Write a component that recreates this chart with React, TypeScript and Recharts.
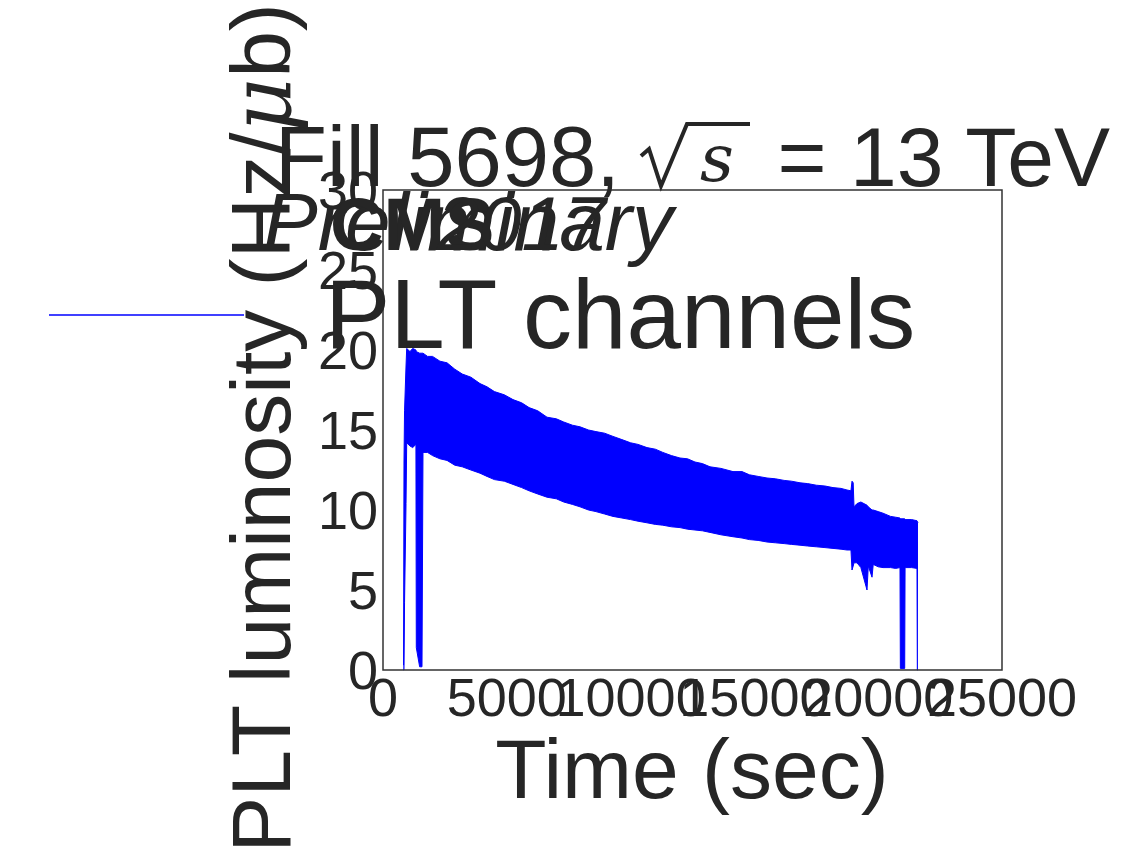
import { ComposedChart, Area, XAxis, YAxis, ReferenceArea } from 'recharts';

// time (sec) and the envelope of the oscillating PLT channel luminosity
const times = [
  830, 848, 870, 930, 957, 1090, 1200, 1330, 1345, 1480, 1575, 1615, 1800, 2000, 2300, 2585,
  2900, 3200, 3550, 3918, 4200, 4500, 4900, 5250, 5600, 5900, 6250, 6624, 7000, 7300, 7650,
  7956, 8300, 8600, 8950, 9289, 9650, 10000, 10300, 10662, 11000, 11300, 11650, 11995, 12300,
  12600, 12900, 13207, 13650, 14136, 14500, 14800, 15150, 15509, 15850, 16200, 16500, 16842,
  17150, 17500, 17850, 18174, 18500, 18740, 18900, 18942, 18990, 19023, 19144, 19300, 19548,
  19600, 19750, 19800, 20000, 20194, 20500, 20700, 20880, 20895, 21070, 21085, 21350, 21567,
  21580, 21607,
];

const highs = [
  0.3, 13.0, 16.2, 19.0, 20.1, 19.9, 20.1, 20.0, 19.9, 19.8, 19.8, 19.8, 19.6, 19.6, 19.3, 19.2,
  18.8, 18.5, 18.3, 17.9, 17.7, 17.4, 17.2, 16.9, 16.7, 16.4, 16.2, 15.8, 15.7, 15.5, 15.3,
  15.2, 15.0, 14.9, 14.8, 14.6, 14.4, 14.2, 14.1, 13.9, 13.8, 13.6, 13.4, 13.25, 13.2,
  13.0, 12.9, 12.7, 12.6, 12.4, 12.4, 12.2, 12.1, 12.0, 11.95, 11.85, 11.8, 11.7,
  11.65, 11.55, 11.5, 11.4, 11.35, 11.25, 11.2, 11.8, 11.7, 10.2, 10.4, 10.5, 10.3,
  10.2, 10.0, 10.0, 9.9, 9.8, 9.6, 9.55, 9.5, 9.45, 9.45, 9.4, 9.4, 9.33,
  9.3, 9.2,
];

const lows = [
  0, 0, 4.2, 10.4, 14.2, 14.0, 13.9, 14.1, 1.4, 0.2, 0.2, 13.6, 13.6, 13.4, 13.2, 13.1,
  12.8, 12.7, 12.5, 12.3, 12.1, 11.9, 11.8, 11.6, 11.4, 11.2, 11.0, 10.8, 10.7, 10.5, 10.35,
  10.2, 10.0, 9.9, 9.75, 9.6, 9.5, 9.4, 9.3, 9.2, 9.1, 9.05, 8.95, 8.9, 8.8,
  8.75, 8.7, 8.6, 8.45, 8.33, 8.25, 8.15, 8.1, 8.0, 7.95, 7.9, 7.85, 7.8,
  7.75, 7.7, 7.65, 7.6, 7.55, 7.5, 7.5, 6.25, 6.5, 6.7, 6.7, 6.4, 5.0,
  6.5, 5.8, 6.6, 6.45, 6.4, 6.4, 6.35, 6.4, 0.1, 0.1, 6.4, 6.4, 6.35,
  0, 0,
];

const xTicks = [0, 5000, 10000, 15000, 20000, 25000];
const yTicks = [0, 5, 10, 15, 20, 25, 30];

const data = times.map((t, i) => ({ t, range: [lows[i], highs[i]] }));

const FONT = '"Liberation Sans", Arial, sans-serif';
const MATH = '"DejaVu Serif", "Liberation Serif", serif';
const INK = '#262626';

export default function App() {
  return (
    <div style={{ position: 'relative', width: 1123, height: 863, fontFamily: FONT }}>
      <style>{'body{margin:0}'}</style>
      <ComposedChart
        width={1123}
        height={863}
        data={data}
        margin={{ top: 190, right: 121, bottom: 133, left: 323 }}
      >
        <XAxis
          dataKey="t"
          type="number"
          domain={[0, 25000]}
          ticks={xTicks}
          height={60}
          axisLine={false}
          tickLine={false}
          tickSize={6}
          tickMargin={2}
          interval={0}
          tick={{ fill: INK, fontSize: 54, fontFamily: FONT }}
        />
        <YAxis
          type="number"
          domain={[0, 30]}
          ticks={yTicks}
          width={60}
          axisLine={false}
          tickLine={false}
          tickSize={5}
          tickMargin={0}
          interval={0}
          tick={{ fill: INK, fontSize: 54, fontFamily: FONT }}
        />
        <Area
          type="linear"
          dataKey="range"
          stroke="#0000ff"
          strokeWidth={1}
          fill="#0000ff"
          fillOpacity={1}
          dot={false}
          activeDot={false}
          isAnimationActive={false}
        />
        <ReferenceArea
          x1={0}
          x2={25000}
          y1={0}
          y2={30}
          fill="none"
          stroke="#333333"
          strokeWidth={1.5}
          ifOverflow="visible"
        />
      </ComposedChart>
      <svg
        width={1123}
        height={863}
        style={{ position: 'absolute', left: 0, top: 0, pointerEvents: 'none', overflow: 'visible' }}
        fontFamily={FONT}
        fill={INK}
      >
        {/* title: Fill 5698, sqrt(s) = 13 TeV */}
        <text x={275} y={186} fontSize={85}>Fill 5698,</text>
        <path d="M641 156 L649 149 L661 186 L687 124 L750 124" fill="none" stroke={INK} strokeWidth={4} strokeLinejoin="miter" />
        <text x={700} y={181} fontSize={66} fontStyle="italic" fontFamily={MATH}>s</text>
        <text x={1110} y={186} fontSize={84} textAnchor="end">= 13 TeV</text>

        <text x={263} y={250} fontSize={82} fontStyle="italic">Preliminary</text>
        <text x={330} y={250} fontSize={74} fontWeight="bold">CMS</text>
        <text x={437} y={250} fontSize={76} fontStyle="italic">2017</text>

        <line x1={49} y1={315} x2={244} y2={315} stroke="#0000ff" strokeWidth={1.5} />
        <text x={325} y={348} fontSize={98}>PLT channels</text>

        <text x={692} y={798} fontSize={84} textAnchor="middle">Time (sec)</text>
        <text transform="translate(290,428) rotate(-90)" fontSize={84} textAnchor="middle">
          PLT luminosity (Hz/<tspan fontStyle="italic" fontFamily={MATH}>μ</tspan>b)
        </text>
      </svg>
    </div>
  );
}
